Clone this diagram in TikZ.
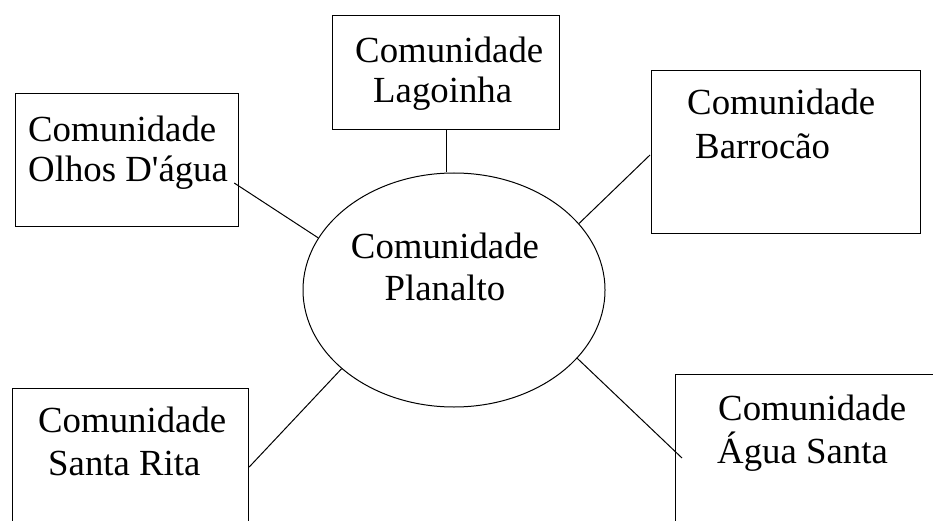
\documentclass[tikz,border=0pt]{standalone}
\usepackage{fontspec}
\setmainfont{Liberation Serif}
\usetikzlibrary{shapes.geometric}

\begin{document}
\begin{tikzpicture}[x=1pt,y=-1pt,
  caixa/.style={draw,line width=1.2pt,inner sep=0pt,anchor=north west},
  rotulo/.style={inner sep=0pt,anchor=base west,align=left,
    font=\fontsize{36.8pt}{40pt}\selectfont},
  liga/.style={line width=1pt}]
\clip (0,0) rectangle (933,521);
\node[caixa,minimum width=227pt,minimum height=114pt] (lagoinha) at (332,15) {};
\node[caixa,minimum width=223pt,minimum height=133pt] (olhos) at (15,93) {};
\node[caixa,minimum width=269pt,minimum height=163pt] (barrocao) at (651,70) {};
\node[caixa,minimum width=236pt,minimum height=160pt] (rita) at (12,388) {};
\node[caixa,minimum width=290pt,minimum height=170pt] (agua) at (675,374) {};
\node[draw,ellipse,line width=1pt,inner sep=0pt,minimum width=302pt,minimum height=234pt] (planalto) at (454,290) {};

% the base anchor sits on the last line
\node[rotulo] (tlagoinha) at (355,103) {Comunidade\\\hspace*{18pt}Lagoinha};
\node[rotulo] (tolhos) at (28,182) {Comunidade\\Olhos D\textquotesingle água};
\node[rotulo] (tbarrocao) at (687,159) {Comunidade\\[4pt]\hspace*{8pt}Barrocão};
\node[rotulo] (trita) at (38,475) {Comunidade\\[3pt]\hspace*{10pt}Santa Rita};
\node[rotulo] (tagua) at (718,463) {Comunidade\\[3pt]\hspace*{-1pt}Água Santa};
\node[rotulo,anchor=base,align=center] (tplanalto) at (445,300) {Comunidade\\[2pt]Planalto};

\draw[liga] (lagoinha.south) -- (planalto.north -| lagoinha.south);
\draw[liga] ([shift={(-5,90)}]olhos.north east) -- (planalto.159);
\draw[liga] ([shift={(-1,85)}]barrocao.north west) -- (planalto.28.4);
\draw[liga] ([shift={(0,79)}]rita.north east) -- (planalto.215.4);
\draw[liga] ([shift={(7,84)}]agua.north west) -- (planalto.331.6);
\end{tikzpicture}
\end{document}
